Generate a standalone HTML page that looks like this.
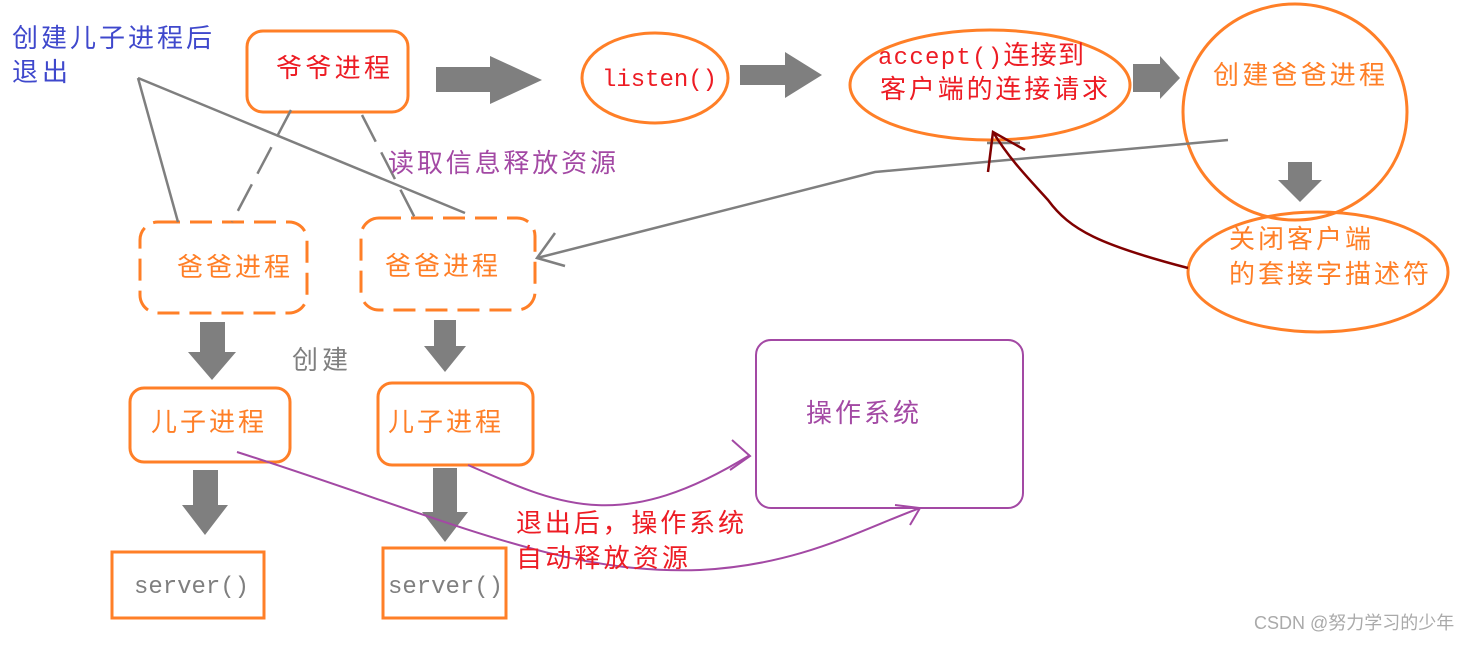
<!DOCTYPE html>
<html><head><meta charset="utf-8"><style>
body{margin:0;background:#fff;width:1480px;height:642px;overflow:hidden}
svg text{font-family:"Liberation Sans","Noto Sans CJK SC",sans-serif;font-size:26px}
svg text.m, svg tspan.m{font-family:"Liberation Mono","Noto Sans CJK SC",monospace;font-size:24px}
</style></head><body>
<svg width="1480" height="642" viewBox="0 0 1480 642" xmlns="http://www.w3.org/2000/svg">
<g fill="none" stroke="#ff7f27" stroke-width="3">
<rect x="247" y="31" width="161" height="81" rx="16"/>
<ellipse cx="655" cy="78" rx="73" ry="45"/>
<ellipse cx="990" cy="85" rx="140" ry="55"/>
<ellipse cx="1295" cy="112" rx="112" ry="108"/>
<ellipse cx="1318" cy="272" rx="130" ry="60"/>
<rect x="140" y="222" width="167" height="91" rx="18" stroke-dasharray="22,10"/>
<rect x="361" y="218" width="174" height="92" rx="18" stroke-dasharray="22,10"/>
<rect x="130" y="388" width="160" height="74" rx="14"/>
<rect x="378" y="383" width="155" height="82" rx="14"/>
<rect x="112" y="552" width="152" height="66"/>
<rect x="383" y="548" width="123" height="70"/>
</g>
<rect x="756" y="340" width="267" height="168" rx="15" fill="none" stroke="#a349a4" stroke-width="2"/>
<g fill="#7f7f7f">
<polygon points="436,67 490,67 490,56 542,80 490,104 490,92 436,92"/>
<polygon points="740,65 785,65 785,52 822,75 785,98 785,85 740,85"/>
<polygon points="1133,64 1160,64 1160,56 1180,78 1160,99 1160,92 1133,92"/>
<polygon points="1288,162 1312,162 1312,180 1322,180 1300,202 1278,180 1288,180"/>
<polygon points="200,322 225,322 225,352 236,352 212,380 188,352 200,352"/>
<polygon points="434,320 456,320 456,346 466,346 445,372 424,346 434,346"/>
<polygon points="193,470 218,470 218,505 228,505 205,535 182,505 193,505"/>
<polygon points="433,468 457,468 457,512 468,512 445,542 422,512 433,512"/>
</g>
<g stroke="#7f7f7f" stroke-width="2.5" fill="none">
<path d="M138,78 L178,222"/>
<path d="M138,78 L465,213"/>
<path d="M291,110 L232,222" stroke-dasharray="30,12"/>
<path d="M362,115 L415,218" stroke-dasharray="30,12"/>
<path d="M1228,140 L875,172 L537,258"/>
<path d="M555,233 L537,258 L565,266"/>
<path d="M987,143 L1020,143"/>
</g>
<g stroke="#800000" stroke-width="2.5" fill="none">
<path d="M1188,268 C1100,245 1070,230 1048,200 C1030,180 1010,160 993,132"/>
<path d="M988,172 L993,132 L1025,150"/>
</g>
<g stroke="#a349a4" stroke-width="2" fill="none">
<path d="M468,465 C560,505 620,535 750,455"/>
<path d="M732,440 L750,456 L730,470"/>
<path d="M237,452 C450,520 560,575 700,570 C800,565 860,530 920,508"/>
<path d="M895,505 L920,508 L910,525"/>
</g>
<text x="276" y="77" fill="#ed1c24" textLength="114">爷爷进程</text>
<text x="602" y="86" fill="#ed1c24" class="m" textLength="115">listen()</text>
<text x="878" y="64" fill="#ed1c24" textLength="206"><tspan class="m">accept()</tspan>连接到</text>
<text x="880" y="98" fill="#ed1c24" textLength="228">客户端的连接请求</text>
<text x="1213" y="84" fill="#ff7f27" textLength="172">创建爸爸进程</text>
<text x="1229" y="248" fill="#ff7f27" textLength="142">关闭客户端</text>
<text x="1229" y="283" fill="#ff7f27" textLength="200">的套接字描述符</text>
<text x="12" y="47" fill="#3f48cc" textLength="200">创建儿子进程后</text>
<text x="12" y="81" fill="#3f48cc" textLength="56">退出</text>
<text x="388" y="172" fill="#a349a4" textLength="228">读取信息释放资源</text>
<text x="177" y="276" fill="#ff7f27" textLength="113">爸爸进程</text>
<text x="385" y="275" fill="#ff7f27" textLength="113">爸爸进程</text>
<text x="292" y="369" fill="#7f7f7f" textLength="56">创建</text>
<text x="151" y="431" fill="#ff7f27" textLength="113">儿子进程</text>
<text x="388" y="431" fill="#ff7f27" textLength="113">儿子进程</text>
<text x="134" y="593" fill="#7f7f7f" class="m" textLength="115">server()</text>
<text x="388" y="593" fill="#7f7f7f" class="m" textLength="115">server()</text>
<text x="806" y="422" fill="#a349a4" textLength="113">操作系统</text>
<text x="516" y="532" fill="#ed1c24" textLength="228">退出后，操作系统</text>
<text x="516" y="567" fill="#ed1c24" textLength="172">自动释放资源</text>
<text x="1254" y="629" fill="#aaa" style="font-size:18px">CSDN @努力学习的少年</text>
</svg>
</body></html>
